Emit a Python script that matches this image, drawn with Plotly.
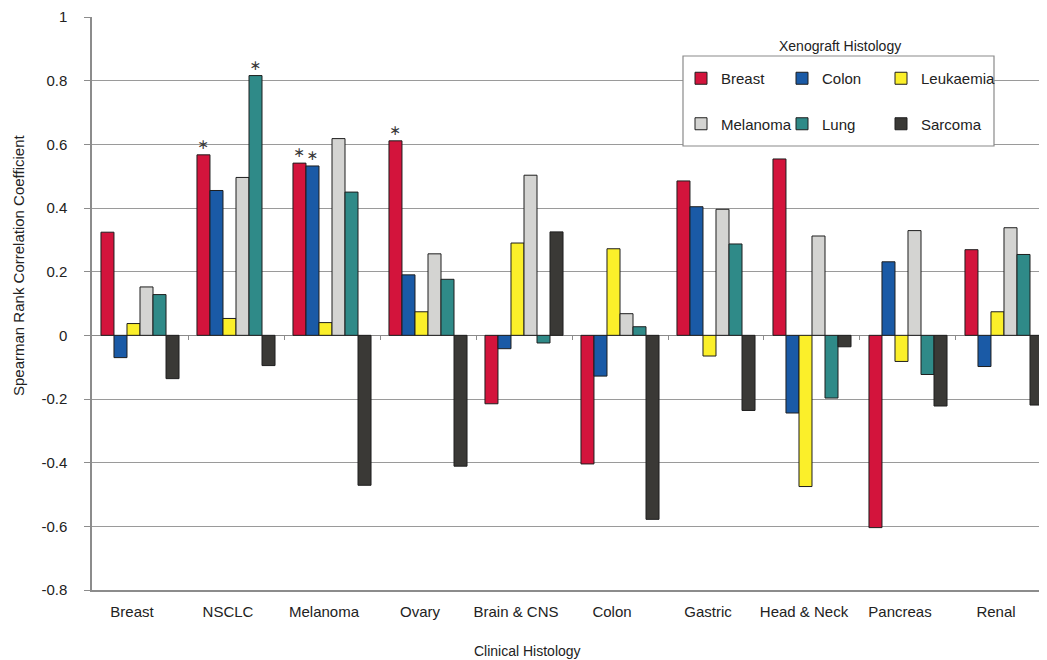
import plotly.graph_objects as go

categories = ["Breast", "NSCLC", "Melanoma", "Ovary", "Brain & CNS", "Colon",
              "Gastric", "Head & Neck", "Pancreas", "Renal"]

series_names = ["Breast", "Colon", "Leukaemia", "Melanoma", "Lung", "Sarcoma"]

breast = [0.324, 0.567, 0.541, 0.611, -0.215, -0.404, 0.485, 0.554, -0.604, 0.269]
colon = [-0.070, 0.455, 0.532, 0.190, -0.042, -0.128, 0.404, -0.244, 0.231, -0.098]
leukaemia = [0.037, 0.053, 0.040, 0.074, 0.290, 0.272, -0.065, -0.475, -0.082, 0.074]
melanoma = [0.152, 0.496, 0.618, 0.256, 0.503, 0.068, 0.396, 0.312, 0.329, 0.338]
lung = [0.128, 0.816, 0.450, 0.176, -0.024, 0.027, 0.287, -0.197, -0.123, 0.254]
sarcoma = [-0.136, -0.095, -0.471, -0.411, 0.325, -0.578, -0.236, -0.036, -0.222, -0.219]

# significance flags (asterisks)
sig_breast = [0, 1, 1, 1, 0, 0, 0, 0, 0, 0]
sig_colon = [0, 0, 1, 0, 0, 0, 0, 0, 0, 0]
sig_leukaemia = [0] * 10
sig_melanoma = [0] * 10
sig_lung = [0, 1, 0, 0, 0, 0, 0, 0, 0, 0]
sig_sarcoma = [0] * 10

y_ticks = [1, 0.8, 0.6, 0.4, 0.2, 0, -0.2, -0.4, -0.6, -0.8]
y_tick_text = ["1", "0.8", "0.6", "0.4", "0.2", "0", "-0.2", "-0.4", "-0.6", "-0.8"]

colors = ["#d3143c", "#1a5aa6", "#fbef2a", "#d4d4d2", "#2f8a88", "#3a3936"]
values = [breast, colon, leukaemia, melanoma, lung, sarcoma]
sigs = [sig_breast, sig_colon, sig_leukaemia, sig_melanoma, sig_lung, sig_sarcoma]
# legend column for each series (3 columns x 2 rows)
legend_ids = ["legend", "legend2", "legend3", "legend", "legend2", "legend3"]

FONT = "Liberation Sans, Arial, sans-serif"

# page body has an 8px default margin: work in reference-image pixels, shift by it
O = 8
W, H = 1047 - O, 660 - O
plot_left, plot_right, plot_top, plot_bottom = 92 - O, 1047 - O, 17 - O, 590 - O


def px_x(p):
    return (p - O - plot_left) / (plot_right - plot_left)


def px_y(p):
    return (plot_bottom - (p - O)) / (plot_bottom - plot_top)


fig = go.Figure()
for name, vals, col, sg, lg in zip(series_names, values, colors, sigs, legend_ids):
    fig.add_trace(go.Bar(
        name=name, x=categories, y=vals,
        marker=dict(color=col, line=dict(color="#1e1e1e", width=1)),
        text=["\u2217" if s else "" for s in sg],
        textposition="outside",
        textfont=dict(family="DejaVu Sans, sans-serif", size=14, color="#3a3a3a"),
        cliponaxis=False,
        legend=lg, legendgroup=name,
        hoverinfo="skip",
    ))

leg_common = dict(orientation="v", xanchor="left", yanchor="top",
                  bgcolor="rgba(0,0,0,0)", borderwidth=0, tracegroupgap=23,
                  font=dict(family=FONT, size=15, color="#222222"), traceorder="grouped")
leg_top = px_y(62)

fig.update_layout(
    width=W, height=H,
    margin=dict(l=plot_left, r=W - plot_right, t=plot_top, b=H - plot_bottom, pad=0),
    paper_bgcolor="white", plot_bgcolor="white",
    barmode="group", bargap=0.187, bargroupgap=0,
    font=dict(family=FONT, size=15, color="#222222"),
    showlegend=True,
    legend=dict(x=px_x(681), y=leg_top, **leg_common),
    legend2=dict(x=px_x(782), y=leg_top, **leg_common),
    legend3=dict(x=px_x(881), y=leg_top, **leg_common),
    xaxis=dict(
        type="category", range=[-0.5, 9.448],
        showgrid=False, zeroline=False,
        showline=True, linecolor="#8c8c8c", linewidth=1.5, mirror=False,
        ticks="", ticklabelstandoff=7, ticklabelshift=-8,
        tickfont=dict(family=FONT, size=15, color="#222222"),
    ),
    xaxis2=dict(
        overlaying="x", anchor="free", position=0.8 / 1.8, side="bottom",
        range=[-0.5, 9.448], tickmode="array", tickvals=[0.5, 1.5, 2.5, 3.5, 4.5, 5.5, 6.5, 7.5, 8.5],
        showticklabels=False, ticks="outside", ticklen=4, tickcolor="#8c8c8c",
        showgrid=False, zeroline=False, showline=False,
    ),
    yaxis=dict(
        range=[-0.8, 1], tickmode="array", tickvals=y_ticks, ticktext=y_tick_text,
        showgrid=True, gridcolor="#9a9a9a", gridwidth=1,
        zeroline=True, zerolinecolor="#8a8a8a", zerolinewidth=1,
        showline=True, linecolor="#8c8c8c", linewidth=1.5,
        ticks="outside", ticklen=6, tickcolor="#8c8c8c",
        ticklabelstandoff=14,
        tickfont=dict(family=FONT, size=15, color="#222222"),
    ),
    shapes=[dict(type="rect", xref="paper", yref="paper",
                 x0=px_x(683), x1=px_x(994), y0=px_y(146), y1=px_y(56),
                 line=dict(color="#8a8a8a", width=1.2), fillcolor="white", layer="above")],
    annotations=[
        dict(text="Xenograft Histology", xref="paper", yref="paper", x=px_x(840), y=px_y(46),
             xanchor="center", yanchor="middle", showarrow=False,
             font=dict(family=FONT, size=14, color="#222222")),
        dict(text="Spearman Rank Correlation Coefficient", xref="paper", yref="paper",
             x=px_x(18), y=px_y(265), xanchor="center", yanchor="middle", textangle=-90,
             showarrow=False, font=dict(family=FONT, size=15, color="#222222")),
        dict(text="Clinical Histology", xref="paper", yref="paper", x=px_x(527), y=px_y(651),
             xanchor="center", yanchor="middle", showarrow=False,
             font=dict(family=FONT, size=14, color="#222222")),
    ],
)

# invisible helper trace so the zero-line tick axis is drawn
fig.add_trace(go.Scatter(x=[None], y=[None], xaxis="x2", showlegend=False, hoverinfo="skip"))

fig.write_html("out.html")
